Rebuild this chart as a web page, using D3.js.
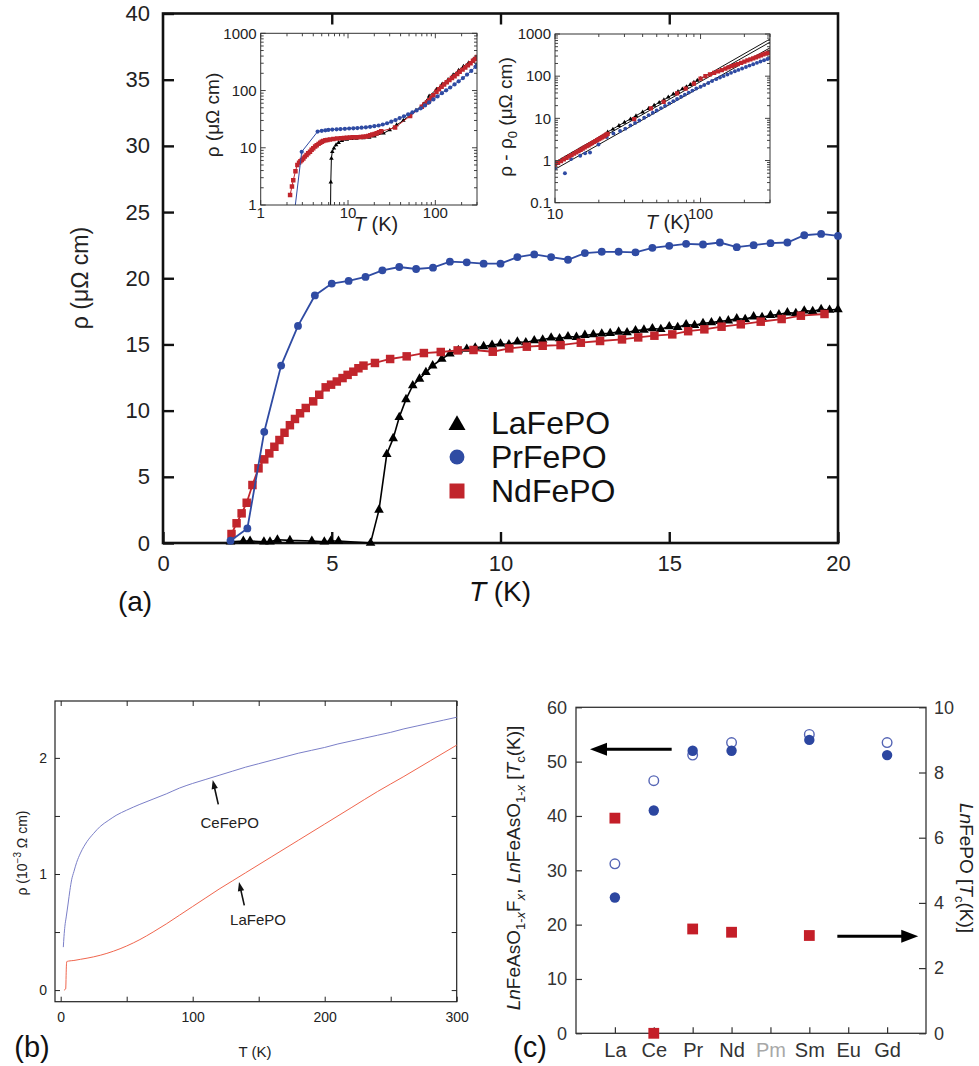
<!DOCTYPE html>
<html>
<head>
<meta charset="utf-8">
<script src="https://cdn.jsdelivr.net/npm/d3@7"></script>
<style>
  body { margin: 0; background: #fff; }
  svg { display: block; }
  text { font-family: "Liberation Sans", Arial, sans-serif; }
</style>
</head>
<body>
<svg id="fig" width="979" height="1066"></svg>
<script>
// ---------------- (a) main panel: low-temperature resistivity ----------------
const laT   = [2.0,2.38,2.58,2.99,3.17,3.39,3.76,4.41,4.78,4.97,5.2,6.15,6.4,6.63,6.82,7.0,7.2,7.4,7.6,7.79,7.99,8.26,8.5,8.75,9.0,9.25,
               9.5,9.75,10,10.25,10.5,10.75,11,11.25,11.5,11.75,12,12.25,12.5,12.75,13,13.25,13.5,13.75,14,14.25,14.5,14.75,15,15.25,15.5,15.75,16,16.25,16.5,16.75,17,17.25,17.5,17.75,18,18.25,18.5,18.75,19,19.25,19.5,19.75,20];
const laRho = [0.1,0.15,0.15,0.1,0.1,0.25,0.2,0.15,0.1,0.15,0.15,0,2.5,6.7,7.9,9.5,10.85,11.9,12.4,12.9,13.4,13.9,14.3,14.55,14.65,14.75,
               14.85,14.95,15.05,15.0,15.2,15.15,15.3,15.35,15.5,15.45,15.6,15.55,15.7,15.75,15.8,15.85,15.95,15.9,16.05,16.1,16.2,16.15,16.35,16.3,16.5,16.45,16.6,16.65,16.75,16.8,16.95,16.9,17.1,17.05,17.2,17.25,17.4,17.35,17.55,17.5,17.65,17.6,17.65];

const prT   = [2.0,2.5,3.0,3.5,4.0,4.5,5.0,5.5,6.0,6.5,7.0,7.5,8.0,8.5,9.0,9.5,10.0,10.5,11.0,11.5,12.0,12.5,13.0,13.5,14.0,14.5,15.0,15.5,16.0,16.5,17.0,17.5,18.0,18.5,19.0,19.5,20.0];
const prRho = [0.17,1.1,8.4,13.4,16.4,18.7,19.6,19.8,20.1,20.6,20.85,20.7,20.8,21.25,21.2,21.1,21.1,21.6,21.8,21.6,21.4,21.9,22.0,22.0,21.95,22.3,22.45,22.6,22.55,22.7,22.35,22.5,22.65,22.7,23.25,23.35,23.2];

const ndT   = [2.03,2.18,2.33,2.48,2.65,2.83,3.0,3.15,3.3,3.45,3.6,3.76,3.91,4.06,4.23,4.45,4.63,4.82,4.98,5.15,5.32,5.47,5.64,5.79,5.94,6.28,6.73,7.22,7.73,8.23,8.73,
               9.2,9.77,10.26,10.78,11.25,11.78,12.38,12.95,13.6,14.08,14.56,15.09,15.56,16.04,16.55,17.12,17.71,18.33,18.9,19.6];
const ndRho = [0.68,1.49,2.24,3.04,4.38,5.64,6.32,6.77,7.27,7.78,8.33,8.9,9.37,9.8,10.2,10.7,11.2,11.76,11.96,12.2,12.46,12.7,12.94,13.2,13.4,13.6,13.9,14.1,14.35,14.43,14.55,
               14.58,14.45,14.7,14.83,14.9,14.95,15.13,15.26,15.38,15.53,15.66,15.76,16.0,16.14,16.34,16.52,16.72,16.92,17.17,17.3];

const aXTicks = [0,5,10,15,20];
const aYTicks = [0,5,10,15,20,25,30,35,40];
const legendNames = ["LaFePO","PrFePO","NdFePO"];

// ---------------- (a) inset 1: rho(T), log-log ----------------
const i1NdT   = [2.17,2.28,2.36,2.5,2.63,2.75,2.85,2.96,3.08,3.2,3.35,3.5,3.67,3.83,4.0,4.2,4.38,4.6,4.8,5.0,5.2,5.5,5.8,6.2,6.8,7.5,8.3,9.0,9.7,10.5,11.3,12.2,13.1,14.0,15.0,16.0,17.0,18.0,19.0,20.2,21.3,22.6,24.0,34.6,51.4,70,75,80,85,90,95,103,110,118,126,135,145,155,166,178,190,205,220,236,253,270,285,300];
const i1NdRho = [1.5,2.1,2.7,3.9,5.0,5.5,5.8,6.1,6.5,7.0,7.5,8.0,8.5,9.2,9.8,10.5,11.1,11.7,12.2,12.7,13.1,13.5,13.7,14.0,14.2,14.5,14.7,14.8,15.0,15.1,15.2,15.3,15.35,15.4,15.6,15.8,16.1,16.5,17.0,17.4,17.9,18.6,19.5,22.5,36,52,57,62,68,75,83,95,105,116,128,140,152,165,178,195,212,232,252,275,300,330,355,385];
const i1PrT   = [2.45,2.95,4.49,5.0,5.5,5.95,6.6,7.4,8.2,9.2,10.3,11.5,12.8,14.3,16,17.9,20,22.4,25,28,31.3,35,39,43.7,48.8,54.6,61,68,76,85,95,106,119,133,148,166,185,207,231,258,288,300];
const i1PrRho = [0.8,8.5,19.2,19.8,20.2,20.5,20.8,21.0,21.2,21.4,21.7,21.9,22.1,22.4,22.8,23.2,23.8,24.5,25.5,26.8,28.5,30.5,33,35.5,38.5,41.5,45,49,55,62,70,79,90,101,113,128,145,165,190,220,260,285];
const i1LaT   = [6.3,6.35,6.45,6.6,6.9,7.3,7.8,8.5,9.7,11,12.5,15,17.5,20,25.5,30,36,43,51.4,60,73,85,103,120,140,160,185,210,240,270,300];
const i1LaRho = [0.7,2.5,6.5,8.5,9.8,11.2,12.3,13.3,14,14.4,14.6,14.8,15.2,16.0,17.9,20.5,25,30,37.5,45,58,80,105,130,155,188,225,265,305,340,365];

// ---------------- (a) inset 2: rho - rho0 vs T, log-log ----------------
const i2NdT   = [10,10.5,11,11.5,12,12.5,13,13.5,14,14.5,15,15.5,16,16.5,17,17.5,18,18.5,19,19.5,20,20.5,21,21.5,22,22.5,23,35,45.6,55.8,69,79,90,100,108,116,124,132,140,148,156,164,172,180,190,200,210,220,230,240,250,260,270,280,290,300];
const i2NdRho = [0.8,0.88,0.97,1.06,1.15,1.25,1.35,1.46,1.57,1.68,1.8,1.92,2.05,2.18,2.3,2.45,2.6,2.75,2.9,3.05,3.2,3.35,3.55,3.7,3.9,4.1,4.3,9.6,17.3,24.5,39,51,67,88,100,110,120,130,140,151,162,172,183,194,208,222,237,251,266,280,296,311,327,343,358,375];
const i2PrT   = [10,11.7,12.9,14.9,16.1,17.4,19.9,22.7,25.2,28,30.4,33,35.5,38,41,44,47,50,53.5,57,61,65,69,73.5,78,83,88,93.5,100,106,113,120,128,136,144,153,162,172,182,193,205,217,230,244,258,273,288,300];
const i2PrRho = [0.65,0.5,1.08,1.3,1.48,1.55,2.4,3.6,4.4,5.0,5.7,6.8,7.8,8.9,10.3,11.9,13.6,15.3,17.5,19.8,22.6,25.6,28.8,32.5,36.5,40.8,45.5,51,56,62,69,77,85,93,101,110,120,131,141,152,165,178,192,207,222,238,255,270];
const i2LaT   = [23,25,27.5,30,33,36,40,44,48,52,56,60,65,70,75,80,85,90,95,100];
const i2LaRho = [4.7,5.5,6.7,8.0,9.6,11.4,14.0,17,20.2,23.7,27.5,31.8,37.3,43,49.5,56,63,71,79,87];
// power-law fits: [T, rho - rho0] end points
const i2Fits = [
  [[10,0.92],[300,760]],
  [[10,0.82],[300,640]],
  [[10,0.62],[300,470]]
];

// ---------------- (b) rho(T) up to 300 K ----------------
const bCeT   = [2,2.5,3.2,4.2,5.7,7,8.3,10,12.1,15,20,25,30,36,42,50,60,70,80,90,100,110,120,130,140,150,160,170,180,190,200,210,220,230,240,250,260,270,280,290,300];
const bCeRho = [0.37,0.46,0.55,0.63,0.75,0.86,0.95,1.02,1.1,1.18,1.28,1.35,1.41,1.46,1.505,1.55,1.60,1.645,1.69,1.74,1.78,1.815,1.85,1.885,1.92,1.95,1.98,2.01,2.04,2.065,2.09,2.12,2.145,2.17,2.195,2.22,2.25,2.275,2.30,2.325,2.35];
const bLaT   = [2.5,3.8,4.3,4.6,6,10,15,20,30,40,50,60,70,80,90,100,110,120,130,140,160,180,200,220,240,260,280,300];
const bLaRho = [0,0.01,0.2,0.245,0.25,0.255,0.265,0.275,0.30,0.335,0.38,0.435,0.50,0.57,0.645,0.72,0.795,0.87,0.94,1.01,1.15,1.29,1.43,1.57,1.71,1.84,1.975,2.11];
const bXTicks = [0,100,200,300];
const bYTicks = [0,1,2];

// ---------------- (c) Tc across the lanthanide series ----------------
const lnNames   = ["La","Ce","Pr","Nd","Pm","Sm","Eu","Gd"];
const asCats    = ["La","Ce","Pr","Nd","Sm","Gd"];
const asTcOpen  = [31.2,46.5,51.2,53.5,55.0,53.5];   // LnFeAsO1-xFx
const asTcFill  = [25.0,41.0,52.0,52.0,54.0,51.2];   // LnFeAsO1-x
const pCats     = ["La","Ce","Pr","Nd","Sm"];
const pTc       = [6.6,0,3.2,3.1,3.0];               // LnFePO
const cLeftTicks  = [0,10,20,30,40,50,60];
const cRightTicks = [0,2,4,6,8,10];

// ======================================================================
const BLUE = "#2f4ba3", RED = "#c1252c";
const svg = d3.select("#fig");
svg.append("rect").attr("width", 979).attr("height", 1066).attr("fill", "#fff");

const zip = (a, b) => a.map((v, i) => [v, b[i]]);

function drawSeries(g, pts, X, Y, o) {
  if (o.line) {
    g.append("path").datum(pts)
      .attr("d", d3.line().x(d => X(d[0])).y(d => Y(d[1])))
      .attr("fill", "none").attr("stroke", o.color).attr("stroke-width", o.lineW);
  }
  g.append("g").selectAll("path").data(pts).join("path")
    .attr("transform", d => `translate(${X(d[0])},${Y(d[1])})`)
    .attr("d", d3.symbol(o.symbol, o.size)())
    .attr("fill", o.fill || o.color);
}

function arrow(g, x1, y1, x2, y2, w, hl, hw, color) {
  const dx = x2 - x1, dy = y2 - y1, L = Math.hypot(dx, dy);
  const ux = dx / L, uy = dy / L, nx = -uy, ny = ux;
  const bx = x2 - ux * hl, by = y2 - uy * hl;
  g.append("line").attr("x1", x1).attr("y1", y1).attr("x2", bx + ux).attr("y2", by + uy)
    .attr("stroke", color).attr("stroke-width", w);
  g.append("path")
    .attr("d", `M${x2},${y2}L${bx + nx * hw},${by + ny * hw}L${bx - nx * hw},${by - ny * hw}Z`)
    .attr("fill", color);
}

function styleAxis(sel, size, color, lineColor, lineW) {
  sel.select(".domain").remove();
  sel.selectAll("text").attr("font-size", size).attr("fill", color)
    .attr("font-family", "Liberation Sans, Arial, sans-serif");
  sel.selectAll("line").attr("stroke", lineColor).attr("stroke-width", lineW);
}

// ---------------------------- panel (a) ----------------------------
const A = { left: 163, right: 838, top: 13.5, bottom: 543 };
const ax = d3.scaleLinear().domain([0, 20]).range([A.left, A.right]);
const ay = d3.scaleLinear().domain([0, 40]).range([A.bottom, A.top]);
const gA = svg.append("g");

gA.append("g").attr("transform", `translate(${A.left},0)`)
  .call(d3.axisLeft(ay).tickValues(aYTicks).tickSize(-11).tickPadding(13).tickFormat(d3.format("d")))
  .call(s => styleAxis(s, 22, "#222", "#111", 2.4));
gA.append("g").attr("transform", `translate(0,${A.bottom})`)
  .call(d3.axisBottom(ax).tickValues(aXTicks).tickSize(-11).tickPadding(12).tickFormat(d3.format("d")))
  .call(s => styleAxis(s, 22, "#222", "#111", 2.4));
gA.append("g").attr("transform", `translate(0,${A.top})`)
  .call(d3.axisTop(ax).tickValues(aXTicks.slice(1, -1)).tickSize(-11).tickFormat(""))
  .call(s => styleAxis(s, 22, "#222", "#111", 2.4));
gA.append("g").attr("transform", `translate(${A.right},0)`)
  .call(d3.axisRight(ay).tickValues(aYTicks.slice(1, -1)).tickSize(-11).tickFormat(""))
  .call(s => styleAxis(s, 22, "#222", "#111", 2.4));
gA.append("rect").attr("x", A.left).attr("y", A.top)
  .attr("width", A.right - A.left).attr("height", A.bottom - A.top)
  .attr("fill", "none").attr("stroke", "#111").attr("stroke-width", 2.6);

gA.append("text").attr("transform", "translate(88,278) rotate(-90)")
  .attr("text-anchor", "middle").attr("font-size", 23).attr("fill", "#222").text("ρ (μΩ cm)");
const axl = gA.append("text").attr("x", 500).attr("y", 601).attr("text-anchor", "middle")
  .attr("font-size", 28).attr("fill", "#111");
axl.append("tspan").attr("font-style", "italic").text("T");
axl.append("tspan").text(" (K)");
gA.append("text").attr("x", 135).attr("y", 611).attr("text-anchor", "middle")
  .attr("font-family", "Lato, 'Open Sans', sans-serif").attr("font-size", 28).attr("fill", "#111").text("(a)");

const gData = gA.append("g");
drawSeries(gData, zip(laT, laRho), ax, ay, { color: "#000", line: true, lineW: 1.6, symbol: d3.symbolTriangle, size: 40 });
drawSeries(gData, zip(ndT, ndRho), ax, ay, { color: RED, line: true, lineW: 1.8, symbol: d3.symbolSquare, size: 72 });
drawSeries(gData, zip(prT, prRho), ax, ay, { color: BLUE, line: true, lineW: 1.8, symbol: d3.symbolCircle, size: 48 });

// legend
const legSym = [d3.symbolTriangle, d3.symbolCircle, d3.symbolSquare];
const legCol = ["#000", BLUE, RED];
const legSize = [125, 175, 225];
legendNames.forEach((n, i) => {
  const y = 423 + i * 34;
  gA.append("path").attr("transform", `translate(457,${y + (i === 0 ? 2 : 0)})`)
    .attr("d", d3.symbol(legSym[i], legSize[i])()).attr("fill", legCol[i]);
  gA.append("text").attr("x", 491).attr("y", y + 11).attr("font-size", 32).attr("fill", "#111").text(n);
});

// log-log inset helper
function logFrame(g, X, Y, box, xLabY) {
  const isMaj = v => Math.abs(Math.log10(v) - Math.round(Math.log10(v))) < 1e-6;
  const tk = g.append("g").attr("stroke", "#444").attr("stroke-width", 1);
  X.ticks().forEach(v => {
    const L = isMaj(v) ? 5 : 3, x = X(v);
    tk.append("line").attr("x1", x).attr("x2", x).attr("y1", box.bottom).attr("y2", box.bottom - L);
    tk.append("line").attr("x1", x).attr("x2", x).attr("y1", box.top).attr("y2", box.top + L);
  });
  Y.ticks().forEach(v => {
    const L = isMaj(v) ? 5 : 3, y = Y(v);
    tk.append("line").attr("x1", box.left).attr("x2", box.left + L).attr("y1", y).attr("y2", y);
    tk.append("line").attr("x1", box.right).attr("x2", box.right - L).attr("y1", y).attr("y2", y);
  });
  g.append("rect").attr("x", box.left).attr("y", box.top)
    .attr("width", box.right - box.left).attr("height", box.bottom - box.top)
    .attr("fill", "none").attr("stroke", "#333").attr("stroke-width", 1);
  const fmt = v => (v < 1 ? String(v) : d3.format("d")(v));
  X.ticks().filter(isMaj).forEach(v => {
    g.append("text").attr("x", X(v)).attr("y", box.bottom + xLabY).attr("text-anchor", "middle")
      .attr("font-size", 15).attr("fill", "#222").text(fmt(v));
  });
  Y.ticks().filter(isMaj).forEach(v => {
    g.append("text").attr("x", box.left - 4).attr("y", Y(v)).attr("dy", "0.35em").attr("text-anchor", "end")
      .attr("font-size", 15).attr("fill", "#222").text(fmt(v));
  });
}
function clipFor(id, box) {
  svg.append("clipPath").attr("id", id).append("rect")
    .attr("x", box.left).attr("y", box.top).attr("width", box.right - box.left).attr("height", box.bottom - box.top);
  return `url(#${id})`;
}

// inset 1
const I1 = { left: 260.7, right: 477, top: 33.3, bottom: 205 };
const i1x = d3.scaleLog().domain([1, 300]).range([I1.left, I1.right]);
const i1y = d3.scaleLog().domain([1, 1000]).range([I1.bottom, I1.top]);
const gI1 = svg.append("g");
const gI1d = gI1.append("g").attr("clip-path", clipFor("clip1", I1));
drawSeries(gI1d, zip(i1LaT, i1LaRho), i1x, i1y, { color: "#000", line: true, lineW: 1, symbol: d3.symbolTriangle, size: 9 });
drawSeries(gI1d, zip(i1NdT, i1NdRho), i1x, i1y, { color: RED, line: true, lineW: 1, symbol: d3.symbolSquare, size: 20 });
drawSeries(gI1d, zip(i1PrT, i1PrRho), i1x, i1y, { color: BLUE, line: true, lineW: 1, symbol: d3.symbolCircle, size: 14 });
logFrame(gI1, i1x, i1y, I1, 13);
gI1.append("text").attr("transform", "translate(219,115) rotate(-90)").attr("text-anchor", "middle")
  .attr("font-size", 19).attr("fill", "#222").text("ρ (μΩ cm)");
const t1 = gI1.append("text").attr("x", 376).attr("y", 231).attr("text-anchor", "middle").attr("font-size", 20).attr("fill", "#222");
t1.append("tspan").attr("font-style", "italic").text("T");
t1.append("tspan").text(" (K)");

// inset 2
const I2 = { left: 555, right: 770, top: 34, bottom: 202.7 };
const i2x = d3.scaleLog().domain([10, 300]).range([I2.left, I2.right]);
const i2y = d3.scaleLog().domain([0.1, 1000]).range([I2.bottom, I2.top]);
const gI2 = svg.append("g");
const gI2d = gI2.append("g").attr("clip-path", clipFor("clip2", I2));
i2Fits.forEach(f => {
  gI2d.append("path").datum(f)
    .attr("d", d3.line().x(d => i2x(d[0])).y(d => i2y(d[1])))
    .attr("fill", "none").attr("stroke", "#111").attr("stroke-width", 1);
});
drawSeries(gI2d, zip(i2LaT, i2LaRho), i2x, i2y, { color: "#000", line: false, symbol: d3.symbolTriangle, size: 9 });
drawSeries(gI2d, zip(i2PrT, i2PrRho), i2x, i2y, { color: BLUE, line: false, symbol: d3.symbolCircle, size: 12 });
drawSeries(gI2d, zip(i2NdT, i2NdRho), i2x, i2y, { color: RED, line: false, symbol: d3.symbolSquare, size: 18 });
logFrame(gI2, i2x, i2y, I2, 16);
const y2l = gI2.append("text").attr("transform", "translate(512,117) rotate(-90)").attr("text-anchor", "middle")
  .attr("font-size", 19).attr("fill", "#222");
y2l.append("tspan").text("ρ - ρ");
y2l.append("tspan").attr("font-size", 13).attr("dy", 5).text("0");
y2l.append("tspan").attr("dy", -5).text(" (μΩ cm)");
const t2 = gI2.append("text").attr("x", 668).attr("y", 229).attr("text-anchor", "middle").attr("font-size", 20).attr("fill", "#222");
t2.append("tspan").attr("font-style", "italic").text("T");
t2.append("tspan").text(" (K)");

// ---------------------------- panel (b) ----------------------------
const B = { left: 55, right: 456.7, top: 701, bottom: 1001.7 };
const bx = d3.scaleLinear().domain([-4.3, 300]).range([B.left, B.right]);
const by = d3.scaleLinear().domain([-0.1, 2.49]).range([B.bottom, B.top]);
const gB = svg.append("g");
const bMinorX = d3.range(0, 301, 50), bMinorY = d3.range(0, 2.4, 0.5);
gB.append("g").attr("transform", `translate(0,${B.bottom})`)
  .call(d3.axisBottom(bx).tickValues(bMinorX).tickSize(-5).tickPadding(10).tickFormat(d => bXTicks.includes(d) ? d : ""))
  .call(s => styleAxis(s, 14, "#222", "#222", 1));
gB.append("g").attr("transform", `translate(0,${B.top})`)
  .call(d3.axisTop(bx).tickValues(bMinorX).tickSize(-5).tickFormat(""))
  .call(s => styleAxis(s, 14, "#222", "#222", 1));
gB.append("g").attr("transform", `translate(${B.left},0)`)
  .call(d3.axisLeft(by).tickValues(bMinorY).tickSize(-5).tickPadding(8).tickFormat(d => bYTicks.includes(d) ? d : ""))
  .call(s => styleAxis(s, 14, "#222", "#222", 1));
gB.append("g").attr("transform", `translate(${B.right},0)`)
  .call(d3.axisRight(by).tickValues(bMinorY).tickSize(-5).tickFormat(""))
  .call(s => styleAxis(s, 14, "#222", "#222", 1));
gB.append("rect").attr("x", B.left).attr("y", B.top).attr("width", B.right - B.left).attr("height", B.bottom - B.top)
  .attr("fill", "none").attr("stroke", "#222").attr("stroke-width", 1.2);

const bLine = d3.line().x(d => bx(d[0])).y(d => by(d[1])).curve(d3.curveMonotoneX);
gB.append("path").datum(zip(bCeT, bCeRho)).attr("d", bLine).attr("fill", "none").attr("stroke", "#7b7fc8").attr("stroke-width", 1);
gB.append("path").datum(zip(bLaT, bLaRho)).attr("d", bLine).attr("fill", "none").attr("stroke", "#f0664e").attr("stroke-width", 1);

arrow(gB, bx(119.4), by(1.60), bx(115.2), by(1.81), 1.6, 9, 3.2, "#111");
arrow(gB, bx(139.1), by(0.73), bx(135.1), by(0.93), 1.6, 9, 3.2, "#111");
gB.append("text").attr("x", bx(128)).attr("y", by(1.40)).attr("text-anchor", "middle").attr("font-size", 15).attr("fill", "#222").text("CeFePO");
gB.append("text").attr("x", bx(149.5)).attr("y", by(0.56)).attr("text-anchor", "middle").attr("font-size", 15).attr("fill", "#222").text("LaFePO");

const bYl = gB.append("text").attr("transform", "translate(27,853) rotate(-90)").attr("text-anchor", "middle")
  .attr("font-size", 14).attr("fill", "#222");
bYl.append("tspan").text("ρ (10");
bYl.append("tspan").attr("font-size", 10).attr("dy", -6).text("−3");
bYl.append("tspan").attr("dy", 6).text(" Ω cm)");
gB.append("text").attr("x", 255).attr("y", 1057).attr("text-anchor", "middle").attr("font-size", 15).attr("fill", "#222").text("T (K)");
gB.append("text").attr("x", 32).attr("y", 1057).attr("text-anchor", "middle")
  .attr("font-family", "Lato, 'Open Sans', sans-serif").attr("font-size", 29).attr("fill", "#111").text("(b)");

// ---------------------------- panel (c) ----------------------------
const C = { left: 576, right: 926, top: 707.3, bottom: 1033.3 };
const cx = d3.scalePoint().domain(lnNames).range([C.left, C.right]).padding(1);
const cyL = d3.scaleLinear().domain([0, 60]).range([C.bottom, C.top]);
const cyR = d3.scaleLinear().domain([0, 10]).range([C.bottom, C.top]);
const gC = svg.append("g");

gC.append("g").attr("transform", `translate(${C.left},0)`)
  .call(d3.axisLeft(cyL).tickValues(cLeftTicks).tickSize(-6).tickPadding(9))
  .call(s => styleAxis(s, 18, "#333", "#333", 1.2));
gC.append("g").attr("transform", `translate(${C.right},0)`)
  .call(d3.axisRight(cyR).tickValues(cRightTicks).tickSize(-7).tickPadding(8))
  .call(s => styleAxis(s, 18, "#333", "#333", 1.2));
gC.append("g").attr("transform", `translate(0,${C.bottom})`)
  .call(d3.axisBottom(cx).tickSize(-6).tickPadding(10))
  .call(s => styleAxis(s, 20, "#333", "#333", 1.2))
  .call(s => s.selectAll("text").attr("fill", d => d === "Pm" ? "#a8a8a8" : "#333"));
gC.append("rect").attr("x", C.left).attr("y", C.top).attr("width", C.right - C.left).attr("height", C.bottom - C.top)
  .attr("fill", "none").attr("stroke", "#333").attr("stroke-width", 1.3);

const gCd = gC.append("g");
gCd.selectAll(".open").data(zip(asCats, asTcOpen)).join("circle")
  .attr("cx", d => cx(d[0])).attr("cy", d => cyL(d[1])).attr("r", 4.8)
  .attr("fill", "#fff").attr("stroke", "#5565b5").attr("stroke-width", 1.4);
gCd.selectAll(".fill").data(zip(asCats, asTcFill)).join("circle")
  .attr("cx", d => cx(d[0])).attr("cy", d => cyL(d[1])).attr("r", 5.2).attr("fill", "#2c46a0");
gCd.selectAll(".sq").data(zip(pCats, pTc)).join("rect")
  .attr("x", d => cx(d[0]) - 5.4).attr("y", d => cyR(d[1]) - 5.4).attr("width", 10.8).attr("height", 10.8).attr("fill", "#c41e28");

// arrows pointing to the axis each series belongs to
const step = cx.step();
arrow(gC, cx("La") + 1.46 * step, cyL(52.3), cx("La") - 0.64 * step, cyL(52.3), 3, 17, 6.5, "#000");
arrow(gC, cx("Sm") + 0.72 * step, cyR(2.98), cx("Gd") + 0.8 * step, cyR(2.98), 3, 17, 6.5, "#000");

const cYl = gC.append("text").attr("transform", `translate(520,868) rotate(-90)`).attr("text-anchor", "middle")
  .attr("font-size", 19).attr("fill", "#222");
cYl.append("tspan").attr("font-style", "italic").text("Ln");
cYl.append("tspan").text("FeAsO");
const s1 = cYl.append("tspan").attr("font-size", 13).attr("dy", 5); s1.append("tspan").text("1-"); s1.append("tspan").attr("font-style", "italic").text("x");
cYl.append("tspan").attr("dy", -5).text("F");
cYl.append("tspan").attr("font-size", 13).attr("font-style", "italic").attr("dy", 5).text("x");
cYl.append("tspan").attr("dy", -5).text(", ");
cYl.append("tspan").attr("font-style", "italic").text("Ln");
cYl.append("tspan").text("FeAsO");
const s2 = cYl.append("tspan").attr("font-size", 13).attr("dy", 5); s2.append("tspan").text("1-"); s2.append("tspan").attr("font-style", "italic").text("x");
cYl.append("tspan").attr("dy", -5).text(" [");
cYl.append("tspan").attr("font-style", "italic").text("T");
cYl.append("tspan").attr("font-size", 13).attr("dy", 5).text("c");
cYl.append("tspan").attr("dy", -5).text("(K)]");

const cYr = gC.append("text").attr("transform", `translate(960,868) rotate(90)`).attr("text-anchor", "middle")
  .attr("font-size", 19).attr("fill", "#222");
cYr.append("tspan").attr("font-style", "italic").text("Ln");
cYr.append("tspan").text("FePO [");
cYr.append("tspan").attr("font-style", "italic").text("T");
cYr.append("tspan").attr("font-size", 13).attr("dy", 5).text("c");
cYr.append("tspan").attr("dy", -5).text("(K)]");

gC.append("text").attr("x", 530).attr("y", 1057).attr("text-anchor", "middle")
  .attr("font-family", "Lato, 'Open Sans', sans-serif").attr("font-size", 29).attr("fill", "#111").text("(c)");
</script>
</body>
</html>
